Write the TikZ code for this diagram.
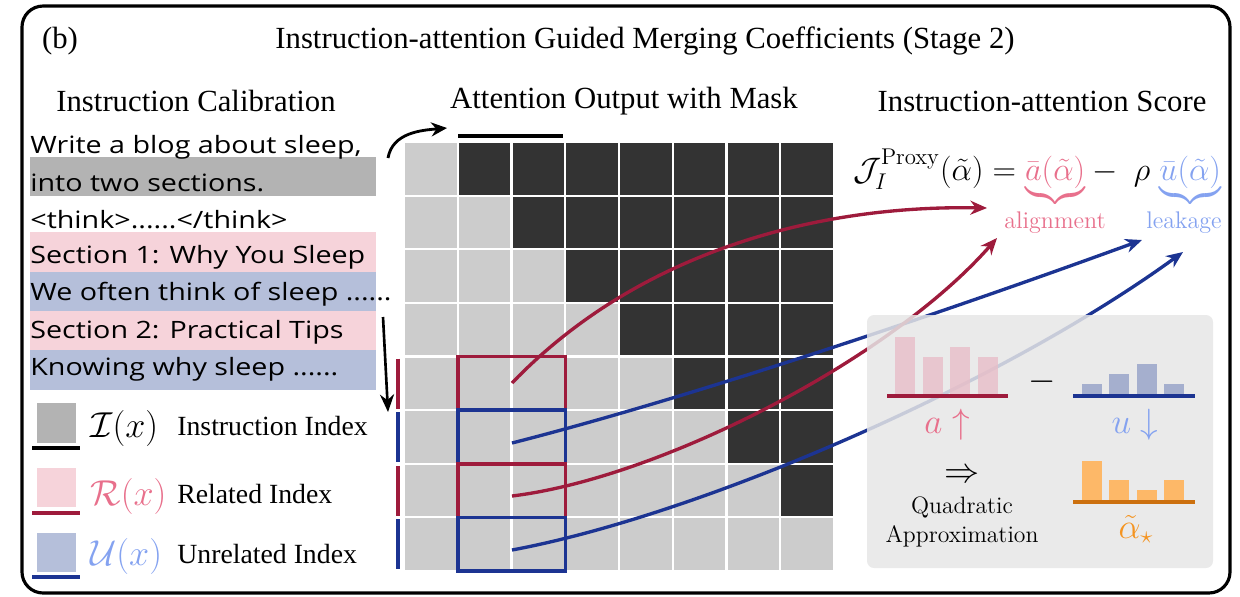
\documentclass[tikz,border=0pt]{standalone}
\usepackage{fix-cm}
\usepackage{amsmath,amssymb}
\usepackage[no-math]{fontspec}
\setmainfont{Liberation Serif}
\newfontfamily\promptfont[FakeStretch=1.2]{Open Sans}
\newcommand{\cmrm}{\fontfamily{lmr}\selectfont}
\usepackage{xcolor}
\usepackage{tikz}
\usetikzlibrary{calc,arrows.meta,positioning}
\definecolor{maskgray}{RGB}{204,204,204}
\definecolor{maskdark}{RGB}{51,51,51}
\definecolor{instgray}{RGB}{179,179,179}
\definecolor{relpink}{RGB}{246,211,218}
\definecolor{unrblue}{RGB}{181,191,218}
\definecolor{relred}{RGB}{158,27,60}
\definecolor{unrnavy}{RGB}{28,52,146}
\definecolor{alignpink}{RGB}{232,112,140}
\definecolor{leakblue}{RGB}{132,162,240}
\definecolor{panelgray}{RGB}{230,230,230}
\definecolor{barpink}{RGB}{232,190,200}
\definecolor{barblue}{RGB}{165,175,206}
\definecolor{barorange}{RGB}{253,184,104}
\definecolor{lineorange}{RGB}{204,112,14}
\definecolor{staorange}{RGB}{245,148,32}

\begin{document}
\begin{tikzpicture}[x=0.02cm,y=-0.02cm,>=Stealth,
    headtxt/.style={font=\fontsize{17.5}{21}\selectfont},
    prompt/.style={anchor=base west,inner sep=0pt,font=\promptfont\fontsize{13.6}{16}\selectfont},
    legtxt/.style={anchor=base west,inner sep=0pt,font=\fontsize{15.8}{19}\selectfont},
    legmath/.style={anchor=base west,inner sep=0pt,font=\fontsize{20.5}{24}\selectfont},
    cmlbl/.style={anchor=base,inner sep=0pt,font=\cmrm\fontsize{13.7}{16}\selectfont},
    boxmath/.style={anchor=base,inner sep=0pt,font=\fontsize{20}{24}\selectfont},
    flow/.style={line width=1.9pt,-{Stealth[length=9.5pt,width=8pt]}}]
  \useasboundingbox (0,0) rectangle (1240,596);
  \draw[line width=1.8pt,rounded corners=12pt] (22,6) rectangle (1230,593);

  % headings
  \node[headtxt] (tag) at (60,41) {(b)};
  \node[headtxt] (title) at (645,41) {Instruction-attention Guided Merging Coefficients (Stage 2)};
  \node[headtxt] (calibhead) at (196,101) {Instruction Calibration};
  \node[headtxt] (maskhead) at (624,101) {Attention Output with Mask};
  \node[headtxt] (scorehead) at (1042,101) {Instruction-attention Score};

  % calibration text
  \fill[instgray] (30,157) rectangle (376,196);
  \fill[relpink] (30,232) rectangle (376,272);
  \fill[unrblue] (30,272) rectangle (376,311);
  \fill[relpink] (30,311) rectangle (376,350);
  \fill[unrblue] (30,350) rectangle (376,390);
  \node[prompt] (p1) at (30,153) {Write a blog about sleep,};
  \node[prompt] (p2) at (30,191) {into two sections.};
  \node[prompt] (p3) at (30,228) {<think>......</think>};
  \node[prompt] (p4) at (30,263) {Section 1: Why You Sleep};
  \node[prompt] (p5) at (30,300) {We often think of sleep ......};
  \node[prompt] (p6) at (30,338) {Section 2: Practical Tips};
  \node[prompt] (p7) at (30,375) {Knowing why sleep ......};

  % legend
  \fill[instgray] (37,403) rectangle (76,443);
  \draw[line width=2pt] (32,448) -- (80,448);
  \fill[relpink] (37,468) rectangle (76,507);
  \draw[relred,line width=2pt] (32,513) -- (80,513);
  \fill[unrblue] (37,533) rectangle (76,572);
  \draw[unrnavy,line width=2pt] (32,577) -- (80,577);
  \node[legmath] (imath) at (90,437) {$\mathcal{I}(x)$};
  \node[legtxt] (itxt) at (177,435) {Instruction Index};
  \node[legmath,text=alignpink] (rmath) at (90,505) {$\mathcal{R}(x)$};
  \node[legtxt] (rtxt) at (177,503) {Related Index};
  \node[legmath,text=leakblue] (umath) at (90,565) {$\mathcal{U}(x)$};
  \node[legtxt] (utxt) at (177,563) {Unrelated Index};

  % black arrows
  \coordinate (c0) at (388,158);
  \coordinate (c1) at (447,128);
  \draw[line width=1.6pt,-{Stealth[length=9pt,width=8pt]}] (c0) to[out=80,in=185] (c1);
  \draw[line width=2pt] (458,136) -- (563,136);
  \coordinate (d0) at (383,317);
  \coordinate (d1) at (388,412);
  \draw[line width=1.5pt,-{Stealth[length=10pt,width=8pt]}] (d0) -- (d1);

  % attention mask
  \foreach \r in {0,...,7}{
    \foreach \c in {0,...,7}{
      \ifnum\c>\r \def\cellcol{maskdark}\else \def\cellcol{maskgray}\fi
      \fill[\cellcol] (404+\c*53.75,142+\r*53.63) rectangle ++(53.75,53.63);
    }
  }
  \foreach \i in {0,...,8}{
    \draw[white,line width=1.2pt] (404+\i*53.75,142) -- ++(0,429);
    \draw[white,line width=1.2pt] (404,142+\i*53.63) -- ++(430,0);
  }
  \foreach \r/\col in {4/relred,5/unrnavy,6/relred,7/unrnavy}{
    \draw[\col,line width=1.8pt] (398,144+\r*53.63) -- ++(0,50);
    \draw[\col,line width=2pt] (457.75,142+\r*53.63) rectangle ++(107.5,53.63);
  }

  % score
  \node[anchor=base,inner sep=0pt,font=\fontsize{18.5}{22}\selectfont] (score) at (1037,180)
    {$\mathcal{J}_I^{\mathrm{Proxy}}(\tilde\alpha)=\textcolor{alignpink}{\underbrace{\bar a(\tilde\alpha)}}-\;\rho\;\textcolor{leakblue}{\underbrace{\bar u(\tilde\alpha)}}$};
  \node[cmlbl,text=alignpink] (alignlbl) at (1055,228) {alignment};
  \node[cmlbl,text=leakblue] (leaklbl) at (1184,228) {leakage};

  % token flows
  \coordinate (q4) at (512,383);
  \coordinate (q5) at (512,443);
  \coordinate (q6) at (512,496);
  \coordinate (q7) at (512,550);
  \coordinate (ain1) at (987,208);
  \coordinate (ain2) at (997,238);
  \coordinate (lin1) at (1142,240);
  \coordinate (lin2) at (1183,252);
  \draw[flow,relred] (q4) .. controls (640,250) and (820,205) .. (ain1);
  \draw[flow,unrnavy] (q5) .. controls (700,395) and (950,310) .. (lin1);
  \draw[flow,relred] (q6) .. controls (660,478) and (890,360) .. (ain2);
  \draw[flow,unrnavy] (q7) .. controls (700,515) and (1000,385) .. (lin2);

  % quadratic approximation panel
  \fill[panelgray,fill opacity=0.85,rounded corners=4pt] (867,315) rectangle (1213,568);
  \foreach \x/\t in {895/337,923/357,950/347,978/357}
    \fill[barpink,fill opacity=0.8] (\x,\t) rectangle (\x+20,396);
  \draw[relred,line width=2pt] (887,396) -- (1008,396);
  \foreach \x/\t in {1082/384,1109/374,1137/364,1164/384}
    \fill[barblue] (\x,\t) rectangle (\x+20,396);
  \draw[unrnavy,line width=2pt] (1073,396) -- (1195,396);
  \foreach \x/\t in {1082/461,1109/480,1137/490,1164/480}
    \fill[barorange] (\x,\t) rectangle (\x+20,502);
  \draw[lineorange,line width=2pt] (1073,502) -- (1195,502);
  \node[boxmath] (minus) at (1042,390) {$-$};
  \node[boxmath,text=alignpink] (aup) at (947,433) {$a\uparrow$};
  \node[boxmath,text=leakblue] (udown) at (1135,433) {$u\downarrow$};
  \node[boxmath] (implies) at (962,482) {$\Rightarrow$};
  \node[align=center,inner sep=0pt,font=\cmrm\fontsize{13.5}{17}\selectfont] (quad) at (962,522) {Quadratic\\Approximation};
  \node[boxmath,text=staorange] (astar) at (1136,538) {$\tilde\alpha_\star$};
\end{tikzpicture}
\end{document}
